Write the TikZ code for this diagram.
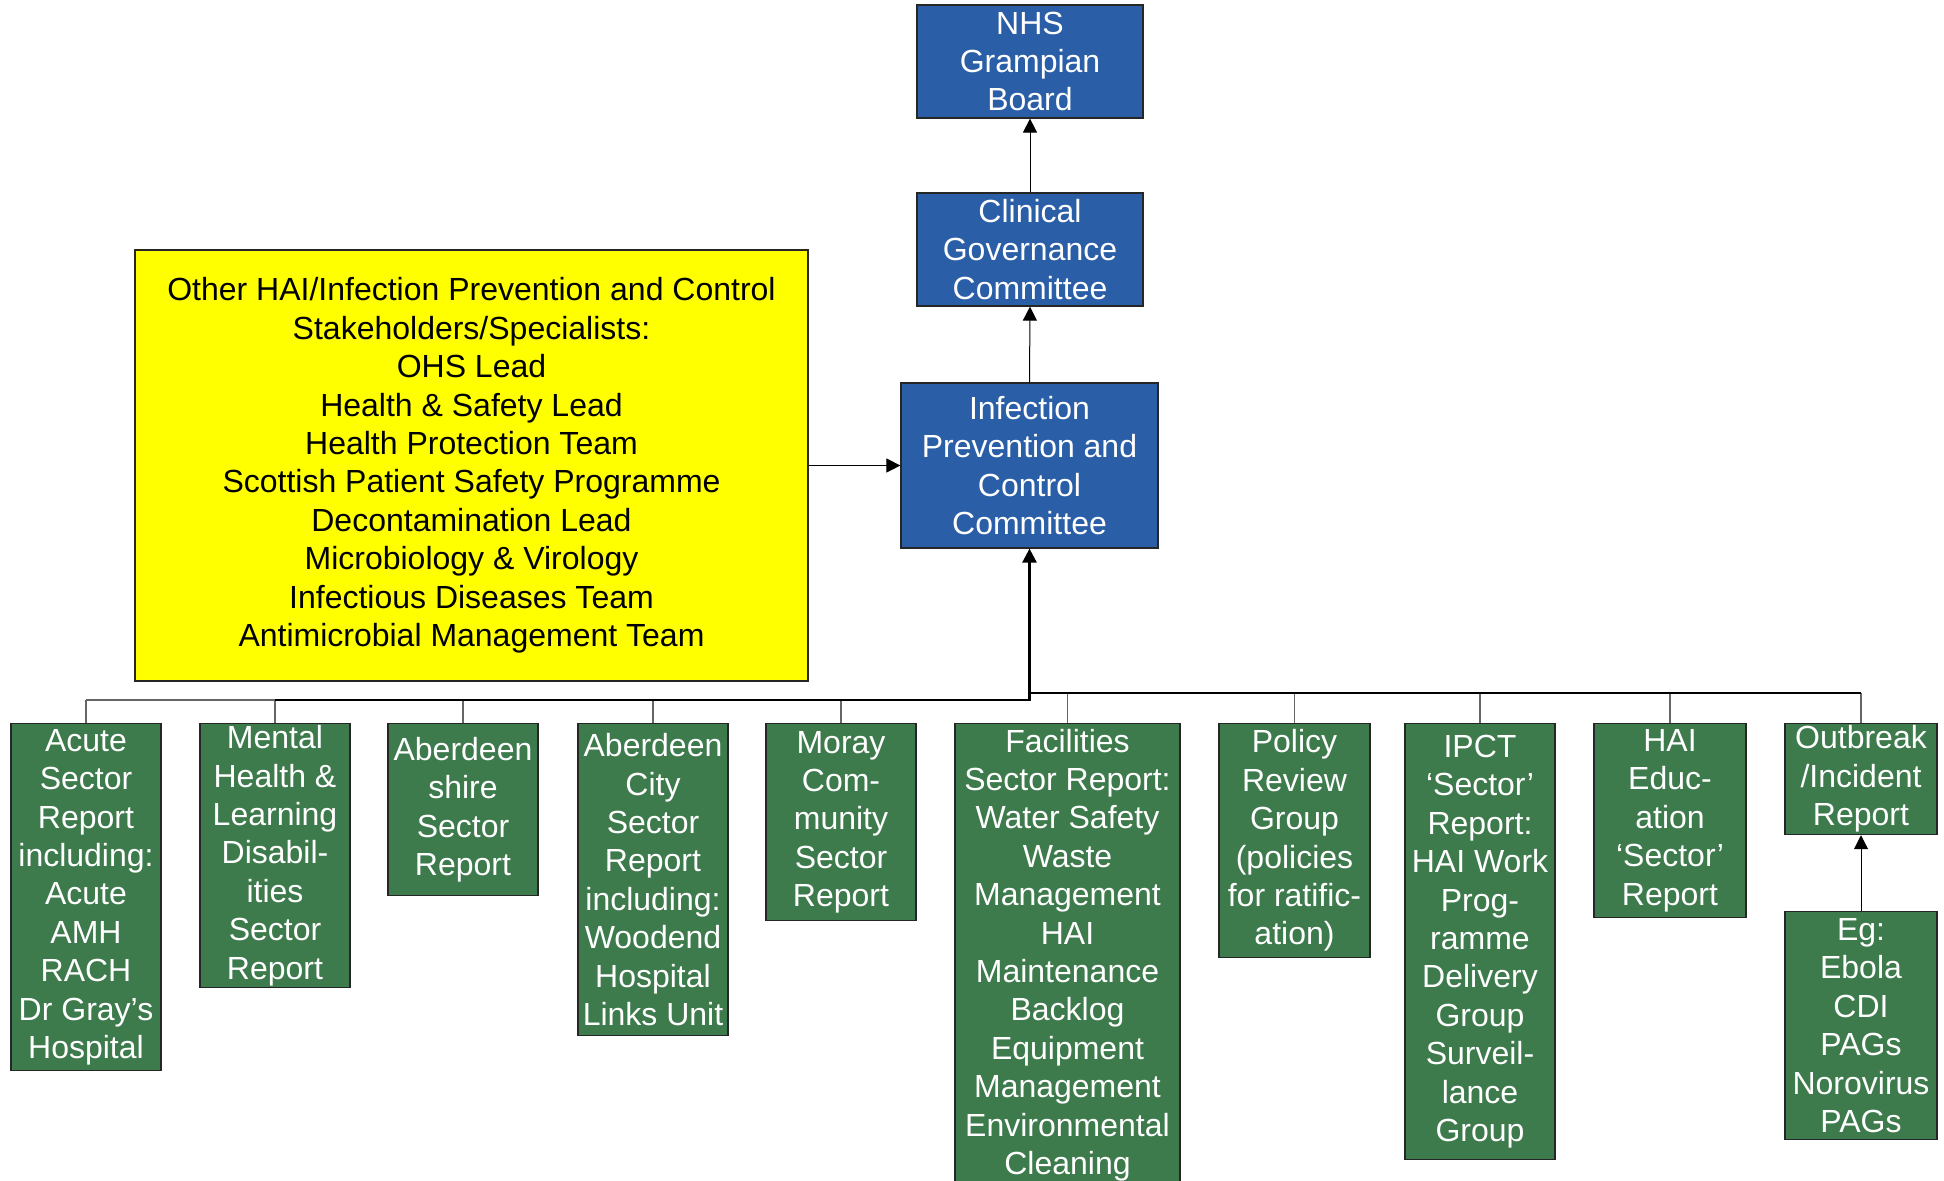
\documentclass[tikz,border=0pt]{standalone}
\usepackage{fontspec}
\setmainfont{Liberation Sans}
\usetikzlibrary{arrows.meta}

\definecolor{nhsblue}{HTML}{2A5EA7}
\definecolor{ipgreen}{HTML}{3D7A4C}
\definecolor{hiyellow}{HTML}{FFFF00}
\newcommand\boxfont{\fontsize{16}{19.2}\selectfont}

\tikzset{
  blubox/.style={draw=black!85, line width=0.6pt, fill=nhsblue, text=white, align=center, font=\boxfont, inner sep=0pt},
  grnbox/.style={draw=black!85, line width=0.6pt, fill=ipgreen, text=white, align=center, font=\boxfont, inner sep=0pt, minimum width=75pt},
  ylwbox/.style={draw=black!85, line width=0.6pt, fill=hiyellow, text=black, align=center, font=\boxfont, inner sep=0pt},
  uparrow/.style={draw=black, line width=0.5pt, -{Triangle[length=7pt,width=7pt]}},
  stem/.style={draw=black!60, line width=0.6pt},
  bus/.style={draw=black, line width=0.6pt},
  mainlink/.style={draw=black, line width=1.3pt, -{Triangle[length=7pt,width=7pt]}},
}

\begin{document}
\begin{tikzpicture}[x=1pt,y=-1pt]
                \useasboundingbox (0,0) rectangle (972,590);
                \clip (0,0) rectangle (972,590);

                % top of the tree
                \node[blubox,minimum width=113pt,minimum height=56.5pt] (nhs) at (515,30.75) {NHS\\Grampian\\Board};
                \node[blubox,minimum width=113pt,minimum height=56.5pt] (cgc) at (515,124.75) {Clinical\\Governance\\Committee};
                \node[blubox,minimum width=128.5pt,minimum height=82.5pt] (ipc) at (514.75,232.75) {Infection\\Prevention and\\Control\\Committee};
                \node[ylwbox,minimum width=336.5pt,minimum height=215.5pt] (others) at (235.75,232.75) {Other HAI/Infection Prevention and Control\\Stakeholders/Specialists:\\OHS Lead\\Health \& Safety Lead\\Health Protection Team\\Scottish Patient Safety Programme\\Decontamination Lead\\Microbiology \& Virology\\Infectious Diseases Team\\Antimicrobial Management Team};

                % sector reports
                \node[grnbox,minimum height=173.5pt,anchor=north] (acute) at (43,361.5) {Acute\\Sector\\Report\\including:\\Acute\\AMH\\RACH\\Dr Gray’s\\Hospital};
                \node[grnbox,minimum height=132pt,anchor=north] (mental) at (137.5,361.5) {Mental\\Health \&\\Learning\\Disabil-\\ities\\Sector\\Report};
                \node[grnbox,minimum height=86pt,anchor=north] (ashire) at (231.5,361.5) {Aberdeen\\shire\\Sector\\Report};
                \node[grnbox,minimum height=156pt,anchor=north] (acity) at (326.5,361.5) {Aberdeen\\City\\Sector\\Report\\including:\\Woodend\\Hospital\\Links Unit};
                \node[grnbox,minimum height=98.5pt,anchor=north] (moray) at (420.5,361.5) {Moray\\Com-\\munity\\Sector\\Report};
                \node[grnbox,minimum width=112.5pt,minimum height=231.5pt,anchor=north] (facil) at (533.75,361.5) {Facilities\\Sector Report:\\Water Safety\\Waste\\Management\\HAI\\Maintenance\\Backlog\\Equipment\\Management\\Environmental\\Cleaning};
                \node[grnbox,minimum width=75.5pt,minimum height=117pt,anchor=north] (policy) at (647.25,361.5) {Policy\\Review\\Group\\(policies\\for ratific-\\ation)};
                \node[grnbox,minimum height=218pt,anchor=north] (ipct) at (740,361.5) {IPCT\\‘Sector’\\Report:\\HAI Work\\Prog-\\ramme\\Delivery\\Group\\Surveil-\\lance\\Group};
                \node[grnbox,minimum width=76pt,minimum height=97pt,anchor=north] (hai) at (835,361.5) {HAI\\Educ-\\ation\\‘Sector’\\Report};
                \node[grnbox,minimum width=76pt,minimum height=55.5pt,anchor=north] (outbreak) at (930.5,361.5) {Outbreak\\/Incident\\Report};
                \node[grnbox,minimum width=76pt,minimum height=114pt,anchor=north] (eg) at (930.5,455.5) {Eg:\\Ebola\\CDI\\PAGs\\Norovirus\\PAGs};

                \coordinate (lbus) at (0,350);
                \coordinate (rbus) at (0,346.5);

                % reporting lines
                \draw[uparrow] (cgc.north) -- (nhs.south);
                \draw[uparrow] (ipc.north) -- (cgc.south);
                \draw[uparrow] (others.east) -- (ipc.west);
                \draw[uparrow] (eg.north) -- (outbreak.south);

                \foreach \n in {acute,mental,ashire,acity,moray}
                    \draw[stem] (\n.north) -- (\n.north |- lbus);
                \draw[stem] (acute.north |- lbus) -- (moray.north |- lbus);
                \foreach \n in {facil,policy,ipct,hai,outbreak}
                    \draw[stem] (\n.north) -- (\n.north |- rbus);
                \draw[bus] (ipc.south |- rbus) -- (outbreak.north |- rbus);
                \draw[mainlink] (mental.north |- lbus) -| (ipc.south);
            \end{tikzpicture}
\end{document}
